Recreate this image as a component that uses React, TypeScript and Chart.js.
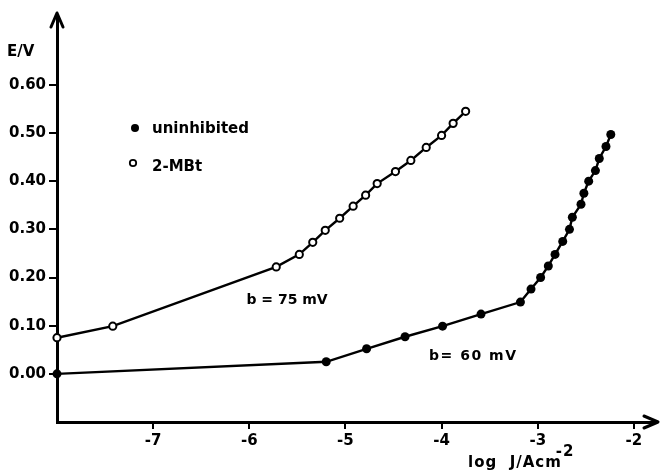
import React, { useEffect, useRef } from "react";
import { Chart, registerables } from "chart.js";

Chart.register(...registerables);

// log J values (x) and E/V values (y)
const uninhibitedX = [-8.0, -5.2, -4.78, -4.38, -3.99, -3.59, -3.18, -3.07, -2.97, -2.89, -2.82, -2.74, -2.67, -2.64, -2.55, -2.52, -2.47, -2.4, -2.36, -2.29, -2.24];
const uninhibitedY = [0.0, 0.025, 0.052, 0.077, 0.099, 0.124, 0.149, 0.176, 0.2, 0.224, 0.248, 0.275, 0.3, 0.325, 0.352, 0.375, 0.4, 0.422, 0.447, 0.472, 0.497];

const mbtX = [-8.0, -7.42, -5.72, -5.48, -5.34, -5.21, -5.06, -4.92, -4.79, -4.67, -4.48, -4.32, -4.16, -4.0, -3.88, -3.75];
const mbtY = [0.075, 0.099, 0.222, 0.248, 0.273, 0.298, 0.323, 0.348, 0.371, 0.395, 0.42, 0.443, 0.47, 0.495, 0.52, 0.545];

const xTicks = [-7, -6, -5, -4, -3, -2];
const yTicks = [0, 0.1, 0.2, 0.3, 0.4, 0.5, 0.6];

const seriesNames = ["uninhibited", "2-MBt"];
const annotations = [
  { text: "b = 75 mV", x: -6.03, y: 0.153, size: 14, spacing: "0px" },
  { text: "b= 60 mV", x: -4.13, y: 0.037, size: 14, spacing: "1.5px" },
];

const FONT = "'DejaVu Sans', sans-serif";

const toPoints = (xs: number[], ys: number[]) => xs.map((x, i) => ({ x, y: ys[i] }));

const overlayPlugin = {
  id: "overlay",
  afterDraw(chart: any) {
    const ctx = chart.ctx as any;
    const { left, right, top, bottom } = chart.chartArea;
    const xs = chart.scales.x;
    const ys = chart.scales.y;
    ctx.save();
    ctx.strokeStyle = "#000";
    ctx.fillStyle = "#000";
    // axes arrows
    ctx.lineWidth = 3;
    ctx.lineCap = "round";
    ctx.lineJoin = "round";
    ctx.beginPath();
    ctx.moveTo(left - 6, top + 12);
    ctx.lineTo(left, top - 2);
    ctx.lineTo(left + 6, top + 12);
    ctx.stroke();
    ctx.beginPath();
    ctx.moveTo(right - 12, bottom - 6);
    ctx.lineTo(right + 2, bottom);
    ctx.lineTo(right - 12, bottom + 6);
    ctx.stroke();

    // axis titles
    ctx.font = `bold 15px ${FONT}`;
    ctx.textBaseline = "middle";
    ctx.textAlign = "left";
    ctx.fillText("E/V", 7, 52);
    ctx.letterSpacing = "1px";
    ctx.fillText("log  J/Acm", 468, 463);
    const w = ctx.measureText("log  J/Acm").width;
    ctx.fillText("-2", 468 + w - 6, 452);
    ctx.letterSpacing = "0px";

    // legend
    ctx.font = `bold 15px ${FONT}`;
    ctx.beginPath();
    ctx.arc(135, 128, 4, 0, Math.PI * 2);
    ctx.fill();
    ctx.fillText(seriesNames[0], 152, 129);
    ctx.beginPath();
    ctx.lineWidth = 1.8;
    ctx.arc(133, 163, 3.2, 0, Math.PI * 2);
    ctx.stroke();
    ctx.fillText(seriesNames[1], 152, 167);

    // annotations
    annotations.forEach((a) => {
      ctx.font = `bold ${a.size}px ${FONT}`;
      ctx.letterSpacing = a.spacing;
      ctx.fillText(a.text, xs.getPixelForValue(a.x), ys.getPixelForValue(a.y));
    });
    ctx.letterSpacing = "0px";
    ctx.restore();
  },
};

export default function App() {
  const ref = useRef<HTMLCanvasElement | null>(null);
  useEffect(() => {
    if (!ref.current) return;
    const chart = new Chart(ref.current, {
      type: "scatter",
      data: {
        datasets: [
          {
            label: seriesNames[0],
            data: toPoints(uninhibitedX, uninhibitedY),
            showLine: true,
            clip: false,
            borderColor: "#000",
            borderWidth: 2.4,
            pointRadius: 4.5,
            pointBackgroundColor: "#000",
            pointBorderColor: "#000",
            pointBorderWidth: 0,
          },
          {
            label: seriesNames[1],
            data: toPoints(mbtX, mbtY),
            showLine: true,
            clip: false,
            borderColor: "#000",
            borderWidth: 2.4,
            pointRadius: 3.6,
            pointBackgroundColor: "#fff",
            pointBorderColor: "#000",
            pointBorderWidth: 2,
          },
        ],
      },
      options: {
        responsive: false,
        animation: false,
        layout: { padding: { top: 15, right: 4, left: 0, bottom: 0 } },
        plugins: { legend: { display: false }, tooltip: { enabled: false } },
        scales: {
          x: {
            type: "linear",
            min: -8,
            max: -1.77,
            afterBuildTicks: (s: any) => {
              s.ticks = xTicks.map((v) => ({ value: v }));
            },
            afterFit: (s: any) => {
              s.height = 49;
            },
            grid: { display: true, drawOnChartArea: false, drawTicks: true, tickLength: 7, color: "#000", lineWidth: 2 },
            border: { display: true, color: "#000", width: 3 },
            ticks: {
              color: "#000",
              padding: 3,
              maxRotation: 0,
              font: { family: FONT, size: 15, weight: "bold" },
              callback: (v: any) => String(v),
            },
          },
          y: {
            type: "linear",
            min: -0.1,
            max: 0.745,
            afterBuildTicks: (s: any) => {
              s.ticks = yTicks.map((v) => ({ value: v }));
            },
            afterFit: (s: any) => {
              s.width = 57;
            },
            grid: { display: true, drawOnChartArea: false, drawTicks: true, tickLength: 8, color: "#000", lineWidth: 2 },
            border: { display: true, color: "#000", width: 3 },
            ticks: {
              color: "#000",
              padding: 3,
              font: { family: FONT, size: 15, weight: "bold" },
              callback: (v: any) => Number(v).toFixed(2),
            },
          },
        },
      },
      plugins: [overlayPlugin],
    } as any);
    return () => chart.destroy();
  }, []);
  return (
    <canvas
      ref={ref}
      width={662}
      height={471}
      style={{ position: "absolute", left: 0, top: 0, display: "block", background: "#fff" }}
    />
  );
}
